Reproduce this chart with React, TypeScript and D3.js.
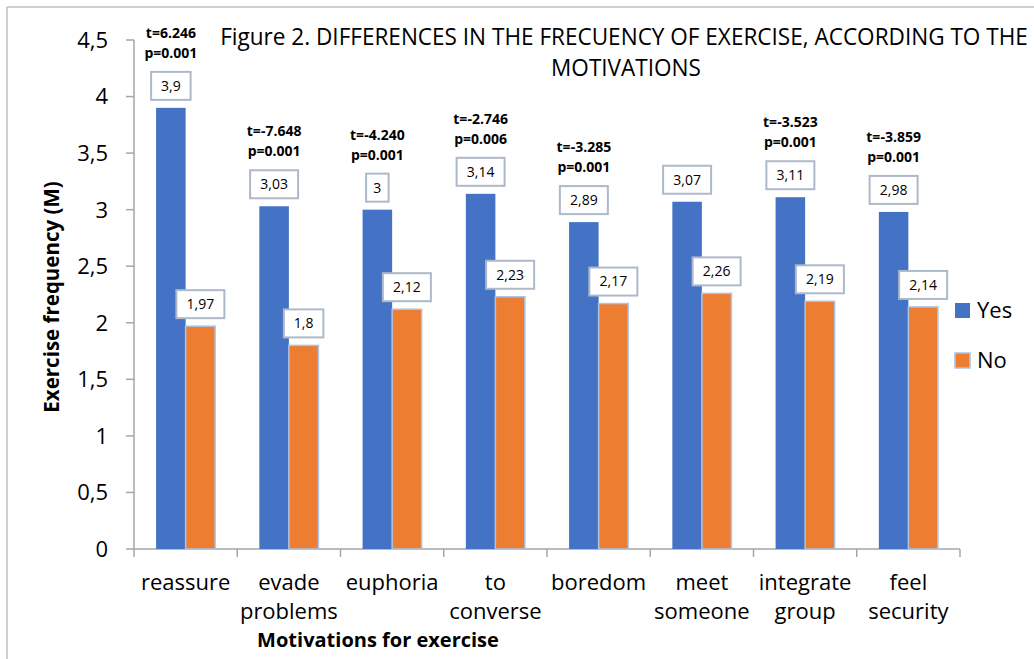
import { useLayoutEffect, useRef, useState } from 'react';
import * as d3 from 'd3';

const categories = ['reassure', 'evade problems', 'euphoria', 'to converse', 'boredom', 'meet someone', 'integrate group', 'feel security'];
const seriesNames = ['Yes', 'No'];
const yesValues = [3.9, 3.03, 3.0, 3.14, 2.89, 3.07, 3.11, 2.98];
const noValues = [1.97, 1.8, 2.12, 2.23, 2.17, 2.26, 2.19, 2.14];
const tStats = ['t=6.246', 't=-7.648', 't=-4.240', 't=-2.746', 't=-3.285', null, 't=-3.523', 't=-3.859'];
const pStats = ['p=0.001', 'p=0.001', 'p=0.001', 'p=0.006', 'p=0.001', null, 'p=0.001', 'p=0.001'];
const yTicks = [0, 0.5, 1, 1.5, 2, 2.5, 3, 3.5, 4, 4.5];
const titleLines = ['Figure 2. DIFFERENCES IN THE FRECUENCY OF EXERCISE, ACCORDING TO THE', 'MOTIVATIONS'];

const colors = ['#4472C4', '#ED7D31'];
const font = '"Open Sans", sans-serif';
const fmt = (v: number) => String(v).replace('.', ',');

const App = () => {
  const width = 1034;
  const height = 659;
  const margin = { top: 40, left: 134, right: 74, bottom: 110 };

  // squeeze the title (Calibri in the original is narrower than Open Sans)
  const titleRef = useRef<SVGTextElement>(null);
  const [titleScale, setTitleScale] = useState(1);
  useLayoutEffect(() => {
    if (titleRef.current) {
      const len = titleRef.current.getComputedTextLength();
      if (len > 0) setTitleScale(808 / len);
    }
  }, []);

  const x0 = d3
    .scaleBand()
    .domain(categories)
    .range([margin.left, width - margin.right])
    .paddingInner(0)
    .paddingOuter(0);

  const gap = x0.bandwidth() * 0.214;
  const x1 = d3
    .scaleBand()
    .domain(seriesNames)
    .range([gap, x0.bandwidth() - gap]);

  const y = d3
    .scaleLinear()
    .domain([0, 4.5])
    .range([height - margin.bottom, margin.top]);

  const series = [yesValues, noValues];
  const y0 = y(0);

  return (
    <svg width={width} height={height} style={{ position: 'absolute', top: 0, left: 0, background: '#fff' }} fontFamily={font}>
      {/* frame */}
      <line x1={7} y1={7} x2={width} y2={7} stroke="#BFBFBF" strokeWidth={1.5} />
      <line x1={7} y1={7} x2={7} y2={height} stroke="#BFBFBF" strokeWidth={1.5} />

      {/* title */}
      <g transform={`translate(624,45) scale(${titleScale},1)`}>
        <text ref={titleRef} fontSize={24} textAnchor="middle" fill="#000">
          {titleLines[0]}
        </text>
        <text x={2 / titleScale} y={31} fontSize={24} textAnchor="middle" fill="#000">
          {titleLines[1]}
        </text>
      </g>

      {/* y axis */}
      <line x1={margin.left} x2={margin.left} y1={y(4.5)} y2={y0} stroke="#A6A6A6" strokeWidth={1.5} />
      {yTicks.map((t) => (
        <g key={t}>
          <line x1={margin.left - 8} x2={margin.left} y1={y(t)} y2={y(t)} stroke="#A6A6A6" strokeWidth={1.5} />
          <text x={108} y={y(t)} dy="0.36em" fontSize={22} textAnchor="end" fill="#000">
            {fmt(t)}
          </text>
        </g>
      ))}
      <text transform={`translate(52,${297}) rotate(-90)`} fontSize={20.5} fontWeight="bold" textAnchor="middle" dy="0.35em">
        Exercise frequency (M)
      </text>

      {/* x axis */}
      <line x1={margin.left} x2={width - margin.right} y1={y0} y2={y0} stroke="#A6A6A6" strokeWidth={1.5} />
      {categories.map((c) => (
        <line key={'tk' + c} x1={x0(c)!} x2={x0(c)!} y1={y0} y2={y0 + 8} stroke="#A6A6A6" strokeWidth={1.5} />
      ))}
      <line x1={width - margin.right} x2={width - margin.right} y1={y0} y2={y0 + 8} stroke="#A6A6A6" strokeWidth={1.5} />
      {categories.map((c) => (
        <text key={'lb' + c} x={x0(c)! + x0.bandwidth() / 2} y={590} fontSize={22} textAnchor="middle" fill="#000">
          {c.split(' ').map((w, j) => (
            <tspan key={j} x={x0(c)! + x0.bandwidth() / 2} dy={j === 0 ? 0 : 29}>
              {w}
            </tspan>
          ))}
        </text>
      ))}
      <text x={378} y={647} fontSize={20} fontWeight="bold" textAnchor="middle">
        Motivations for exercise
      </text>

      {/* bars */}
      {categories.map((c, i) => (
        <g key={'g' + c} transform={`translate(${x0(c)},0)`}>
          {seriesNames.map((s, k) => {
            const v = series[k][i];
            const bx = x1(s)!;
            const bw = x1.bandwidth();
            const label = fmt(v);
            const boxW = label.length * 8.5 + 14;
            const boxH = 28;
            const cx = bx + bw / 2;
            return (
              <g key={s}>
                <rect
                  x={bx}
                  y={y(v)}
                  width={bw}
                  height={y0 - y(v)}
                  fill={colors[k]}
                  stroke={k === 1 ? '#A9C4E8' : 'none'}
                  strokeWidth={1.5}
                />
                <rect x={cx - boxW / 2} y={y(v) - 8 - boxH} width={boxW} height={boxH} fill="#fff" stroke="#ADB9CA" strokeWidth={2} />
                <text x={cx} y={y(v) - 8 - boxH / 2} dy="0.35em" fontSize={14} textAnchor="middle" fill="#000">
                  {label}
                </text>
              </g>
            );
          })}
          {tStats[i] && (
            <text x={x1('Yes')! + x1.bandwidth() / 2} y={y(yesValues[i]) - 70} fontSize={14} fontWeight="bold" textAnchor="middle">
              <tspan x={x1('Yes')! + x1.bandwidth() / 2}>{tStats[i]}</tspan>
              <tspan x={x1('Yes')! + x1.bandwidth() / 2} dy={20}>
                {pStats[i]}
              </tspan>
            </text>
          )}
        </g>
      ))}

      {/* legend */}
      {seriesNames.map((s, k) => (
        <g key={'lg' + s} transform={`translate(955,${303 + k * 50})`}>
          <rect width={15} height={15} fill={colors[k]} stroke={k === 1 ? '#A9C4E8' : 'none'} strokeWidth={1.5} />
          <text x={22} y={15} fontSize={22} fill="#000">
            {s}
          </text>
        </g>
      ))}
    </svg>
  );
};

export default App;
